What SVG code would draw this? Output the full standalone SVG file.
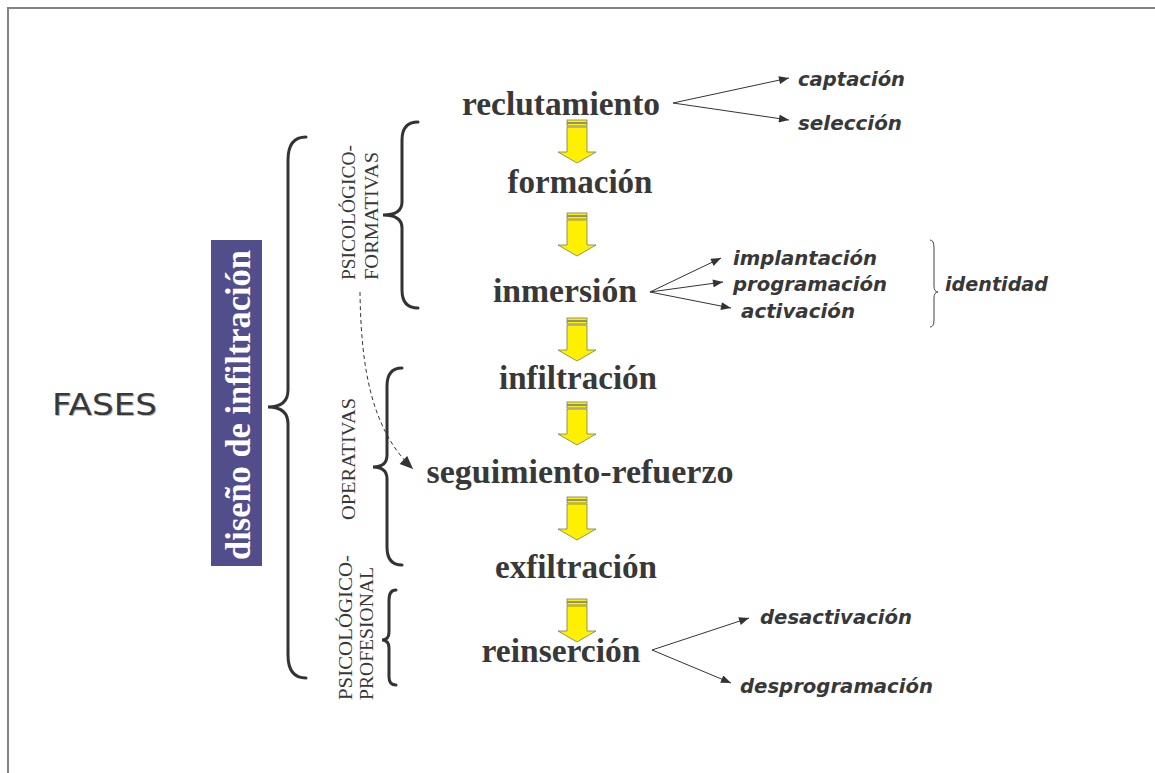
<svg xmlns="http://www.w3.org/2000/svg" width="1155" height="773" viewBox="0 0 1155 773">
<style>
.main{font-family:"Liberation Serif",serif;font-weight:bold;font-size:33px;fill:#383838;text-anchor:middle}
.sub{font-family:"DejaVu Sans",sans-serif;font-weight:bold;font-style:italic;font-size:19px;fill:#383838}
.vlab{font-family:"Liberation Serif",serif;font-size:19px;fill:#383838}
.brace{fill:none;stroke:#333;stroke-width:3;stroke-linecap:round}
.thin{fill:none;stroke:#333;stroke-width:1}
.yarrow{fill:#fff000;stroke:#7a7a60;stroke-width:0.8}
</style>
<defs>
<marker id="ah" viewBox="0 0 10 8" refX="10" refY="4" markerWidth="11" markerHeight="8" markerUnits="userSpaceOnUse" orient="auto">
<path d="M0,0 L10,4 L0,8 Z" fill="#333"/>
</marker>
<marker id="ah2" viewBox="0 0 12 10" refX="12" refY="5" markerWidth="14" markerHeight="11" markerUnits="userSpaceOnUse" orient="auto">
<path d="M0,0 L12,5 L0,10 Z" fill="#333"/>
</marker>
<g id="ya">
<rect class="yarrow" x="-10" y="0" width="20" height="2.5" fill="#d8cc30"/>
<rect class="yarrow" x="-10" y="3.5" width="20" height="2.5"/>
<path class="yarrow" d="M-10,7 L10,7 L10,32 L19,32 L0,43 L-19,32 L-10,32 Z"/>
</g>
</defs>
<rect x="0" y="0" width="1155" height="773" fill="#fff"/>
<path d="M8,773 L8,8 L1155,8" fill="none" stroke="#8a8080" stroke-width="2"/>

<g id="fases">
<text x="53" y="416" font-family="DejaVu Sans,sans-serif" font-size="31" fill="#bbb" textLength="105" lengthAdjust="spacingAndGlyphs">FASES</text>
<text x="52" y="415" font-family="DejaVu Sans,sans-serif" font-size="31" fill="#383838" textLength="105" lengthAdjust="spacingAndGlyphs">FASES</text>
</g>

<g id="diseno">
<rect x="211" y="240" width="51" height="326" fill="#524d8b"/>
<text transform="translate(250,560) rotate(-90)" font-family="Liberation Serif,serif" font-size="36" font-weight="bold" fill="#fff" textLength="310" lengthAdjust="spacingAndGlyphs">diseño de infiltración</text>
</g>

<g id="braces">
<path class="brace" d="M306,137 Q288,137 288,160 L288,390 Q288,407 268,407 Q288,407 288,424 L288,655 Q288,678 306,678"/>
<path class="brace" d="M418,122 Q402,122 402,140 L402,202 Q402,215 383,215 Q402,215 402,228 L402,290 Q402,308 418,308"/>
<path class="brace" d="M402,368 Q387,368 387,386 L387,455 Q387,467 373,467 Q387,467 387,479 L387,547 Q387,565 402,565"/>
<path class="brace" d="M396,590 Q389,590 389,600 L389,632 Q389,640 382,640 Q389,640 389,648 L389,677 Q389,685 396,685"/>
<path d="M930,240 Q934,240 934,248 L934,286 Q934,292 938,292 Q934,292 934,298 L934,320 Q934,327 930,327" fill="none" stroke="#444" stroke-width="1"/>
</g>

<g id="labels-vert">
<text class="vlab" transform="translate(355,280) rotate(-90)" textLength="135" lengthAdjust="spacingAndGlyphs">PSICOLÓGICO-</text>
<text class="vlab" transform="translate(378,280) rotate(-90)" textLength="128" lengthAdjust="spacingAndGlyphs">FORMATIVAS</text>
<text class="vlab" transform="translate(355,520) rotate(-90)" textLength="122" lengthAdjust="spacingAndGlyphs">OPERATIVAS</text>
<text class="vlab" transform="translate(352,700) rotate(-90)" textLength="145" lengthAdjust="spacingAndGlyphs">PSICOLÓGICO-</text>
<text class="vlab" transform="translate(373,700) rotate(-90)" textLength="133" lengthAdjust="spacingAndGlyphs">PROFESIONAL</text>
</g>

<g id="n-reclutamiento"><text class="main" x="561" y="115" textLength="198" lengthAdjust="spacingAndGlyphs">reclutamiento</text></g>
<g id="n-formacion"><text class="main" x="580" y="193" textLength="145" lengthAdjust="spacingAndGlyphs">formación</text></g>
<g id="n-inmersion"><text class="main" x="565" y="302" textLength="144" lengthAdjust="spacingAndGlyphs">inmersión</text></g>
<g id="n-infiltracion"><text class="main" x="578" y="389" textLength="158" lengthAdjust="spacingAndGlyphs">infiltración</text></g>
<g id="n-seguimiento"><text class="main" x="580" y="483" textLength="307" lengthAdjust="spacingAndGlyphs">seguimiento-refuerzo</text></g>
<g id="n-exfiltracion"><text class="main" x="576" y="578" textLength="162" lengthAdjust="spacingAndGlyphs">exfiltración</text></g>
<g id="n-reinsercion"><text class="main" x="561" y="662" textLength="159" lengthAdjust="spacingAndGlyphs">reinserción</text></g>

<g id="n-captacion"><text class="sub" x="798" y="86" textLength="107" lengthAdjust="spacingAndGlyphs">captación</text></g>
<g id="n-seleccion"><text class="sub" x="798" y="130" textLength="104" lengthAdjust="spacingAndGlyphs">selección</text></g>
<g id="n-implantacion"><text class="sub" x="733" y="265" textLength="144" lengthAdjust="spacingAndGlyphs">implantación</text></g>
<g id="n-programacion"><text class="sub" x="733" y="291" textLength="154" lengthAdjust="spacingAndGlyphs">programación</text></g>
<g id="n-activacion"><text class="sub" x="741" y="318" textLength="114" lengthAdjust="spacingAndGlyphs">activación</text></g>
<g id="n-identidad"><text class="sub" x="945" y="291" textLength="103" lengthAdjust="spacingAndGlyphs">identidad</text></g>
<g id="n-desactivacion"><text class="sub" x="760" y="624" textLength="152" lengthAdjust="spacingAndGlyphs">desactivación</text></g>
<g id="n-desprogramacion"><text class="sub" x="740" y="693" textLength="193" lengthAdjust="spacingAndGlyphs">desprogramación</text></g>

<g id="connectors">
<use href="#ya" x="577" y="120"/>
<use href="#ya" x="577" y="213"/>
<use href="#ya" x="577" y="318"/>
<use href="#ya" x="577" y="402"/>
<use href="#ya" x="577" y="497"/>
<use href="#ya" x="577" y="599"/>
<path class="thin" d="M673,103 L789,78" marker-end="url(#ah)"/>
<path class="thin" d="M673,103 L789,120" marker-end="url(#ah)"/>
<path class="thin" d="M650,292 L721,258" marker-end="url(#ah)"/>
<path class="thin" d="M650,292 L723,282" marker-end="url(#ah)"/>
<path class="thin" d="M650,292 L731,308" marker-end="url(#ah)"/>
<path class="thin" d="M652,650 L749,618" marker-end="url(#ah)"/>
<path class="thin" d="M652,650 L731,683" marker-end="url(#ah)"/>
<path class="thin" d="M360,292 C361,370 372,430 413,469" stroke-dasharray="4,3" marker-end="url(#ah2)"/>
</g>
</svg>
